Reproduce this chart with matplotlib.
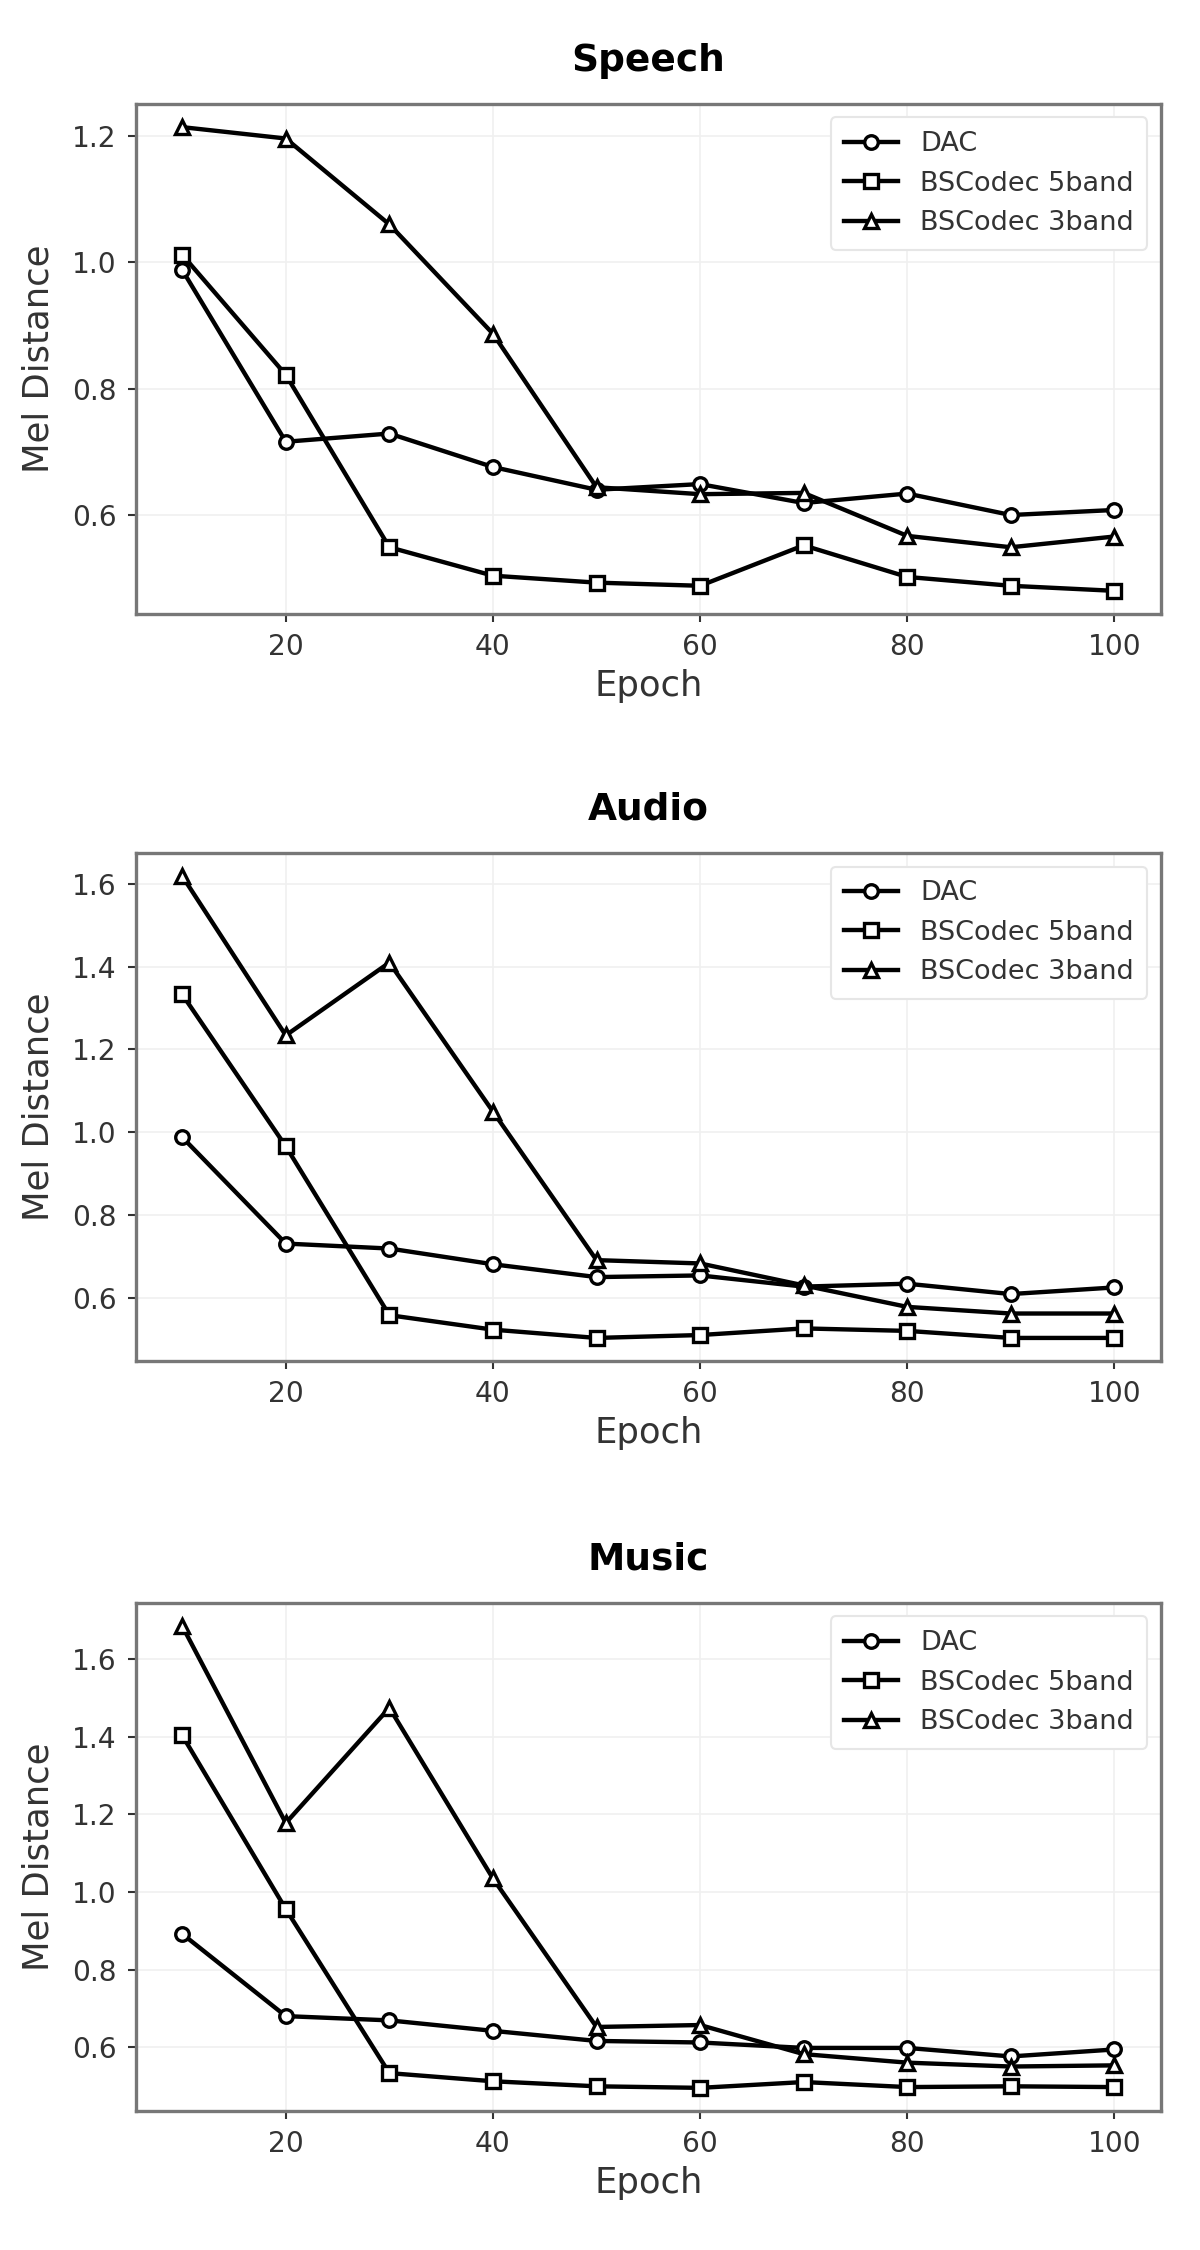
import matplotlib
matplotlib.use("Agg")
import matplotlib.pyplot as plt
from matplotlib.ticker import MultipleLocator

epochs = [10, 20, 30, 40, 50, 60, 70, 80, 90, 100]
series_names = ["DAC", "BSCodec 5band", "BSCodec 3band"]
panel_titles = ["Speech", "Audio", "Music"]

speech_dac = [0.988, 0.716, 0.729, 0.676, 0.640, 0.649, 0.619, 0.634, 0.600, 0.608]
speech_5band = [1.012, 0.822, 0.549, 0.504, 0.493, 0.488, 0.552, 0.502, 0.488, 0.480]
speech_3band = [1.214, 1.196, 1.060, 0.887, 0.644, 0.633, 0.635, 0.567, 0.549, 0.566]

audio_dac = [0.988, 0.731, 0.719, 0.681, 0.650, 0.654, 0.627, 0.634, 0.609, 0.625]
audio_5band = [1.333, 0.966, 0.558, 0.523, 0.503, 0.510, 0.526, 0.520, 0.503, 0.503]
audio_3band = [1.619, 1.234, 1.410, 1.050, 0.691, 0.683, 0.630, 0.578, 0.562, 0.562]

music_dac = [0.892, 0.680, 0.669, 0.642, 0.616, 0.612, 0.598, 0.598, 0.576, 0.594]
music_5band = [1.404, 0.956, 0.533, 0.512, 0.499, 0.495, 0.510, 0.497, 0.499, 0.497]
music_3band = [1.686, 1.178, 1.475, 1.035, 0.652, 0.657, 0.582, 0.560, 0.550, 0.553]

panels = [
    [speech_dac, speech_5band, speech_3band],
    [audio_dac, audio_5band, audio_3band],
    [music_dac, music_5band, music_3band],
]
markers = ["o", "s", "^"]

text_color = "#333333"
fig = plt.figure(figsize=(8, 15), dpi=150)

positions = [
    [0.113, 0.7271, 0.8545, 0.2267],
    [0.113, 0.3951, 0.8545, 0.2258],
    [0.113, 0.0618, 0.8545, 0.2258],
]

for pos, title, data in zip(positions, panel_titles, panels):
    ax = fig.add_axes(pos)
    for vals, name, m in zip(data, series_names, markers):
        ax.plot(epochs, vals, color="black", linewidth=2.1, marker=m,
                markersize=6.5, markerfacecolor="white", markeredgecolor="black",
                markeredgewidth=1.6, label=name)
    ax.set_title(title, fontsize=18, fontweight="bold", color="black", pad=16)
    ax.set_xlabel("Epoch", fontsize=17, color=text_color, labelpad=4)
    ax.set_ylabel("Mel Distance", fontsize=17, color=text_color, labelpad=8)
    ax.tick_params(axis="both", labelsize=13.5, colors=text_color, length=4,
                   width=1, pad=5)
    for s in ax.spines.values():
        s.set_color("#777777")
        s.set_linewidth(1.6)
    ax.grid(True, color="#f0f0f0", linewidth=0.8)
    ax.set_axisbelow(True)
    ax.yaxis.set_major_locator(MultipleLocator(0.2))
    ax.set_xticks([20, 40, 60, 80, 100])
    leg = ax.legend(loc="upper right", fontsize=13, frameon=True,
                    fancybox=True, framealpha=1.0, edgecolor="#e6e6e6",
                    handlelength=2.0, borderpad=0.5, labelspacing=0.5)
    for t in leg.get_texts():
        t.set_color(text_color)

fig.savefig("out.png", dpi=150, facecolor="white")
